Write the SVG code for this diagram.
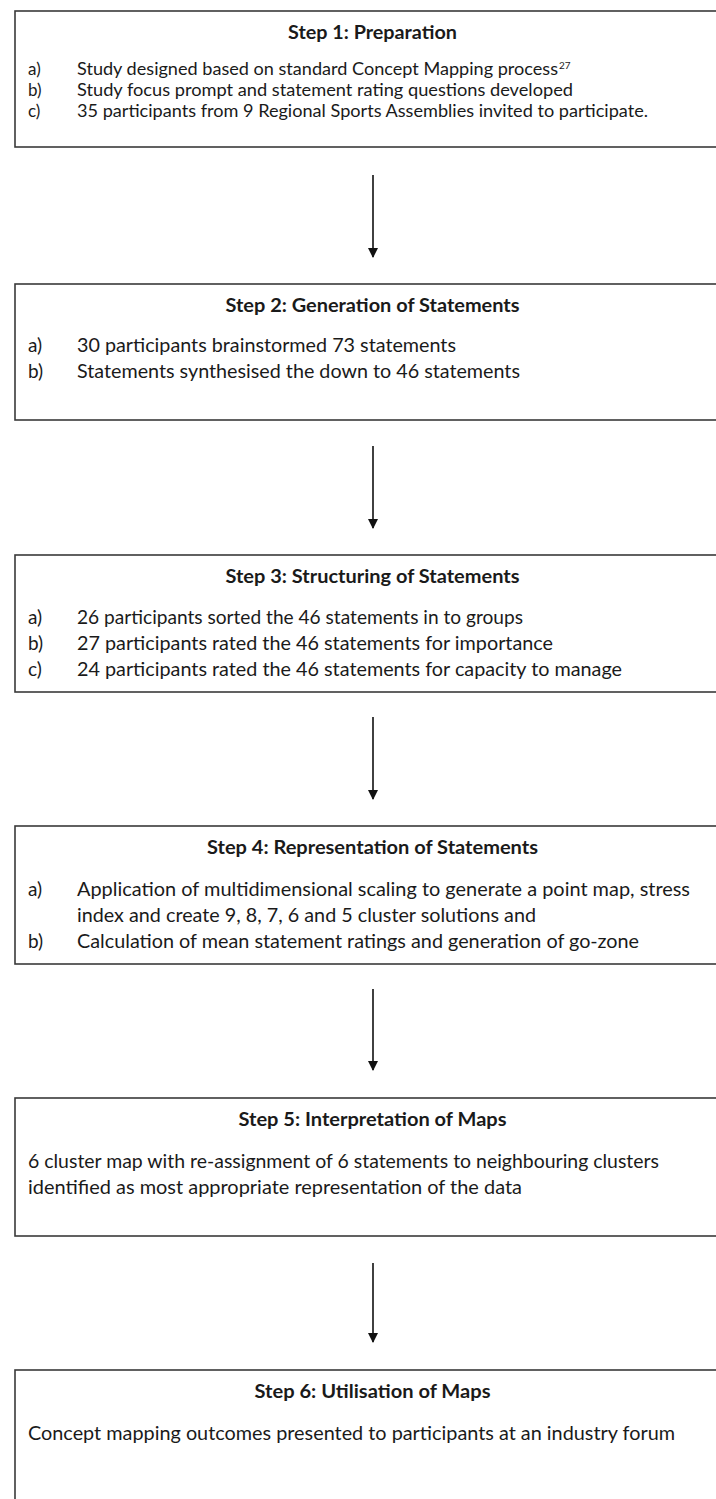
<svg xmlns="http://www.w3.org/2000/svg" width="716" height="1499" viewBox="0 0 716 1499">
<style>
.box{fill:#fff;stroke:#3a3a3a;stroke-width:1.6}
.t{font-family:Lato,"Liberation Sans",Arial,sans-serif;font-size:19px;fill:#1a1a1a}
.s{font-size:17px}
.h{font-family:Lato,"Liberation Sans",Arial,sans-serif;font-size:19px;font-weight:bold;fill:#1a1a1a;text-anchor:middle}
.c{stroke:#111;stroke-width:1.6;fill:none}
</style>
<defs>
<marker id="ah" markerWidth="10" markerHeight="11" refX="9" refY="5" orient="auto" markerUnits="userSpaceOnUse">
<path d="M0,0 L10,5 L0,10 Z" fill="#111"/>
</marker>
</defs>
<rect width="716" height="1499" fill="#fff"/>
<g id="connectors">
<line class="c" x1="373" y1="175" x2="373" y2="257" marker-end="url(#ah)"/>
<line class="c" x1="373" y1="446" x2="373" y2="528" marker-end="url(#ah)"/>
<line class="c" x1="373" y1="717" x2="373" y2="799" marker-end="url(#ah)"/>
<line class="c" x1="373" y1="989" x2="373" y2="1070" marker-end="url(#ah)"/>
<line class="c" x1="373" y1="1263" x2="373" y2="1342" marker-end="url(#ah)"/>
</g>
<g id="step1">
<rect class="box" x="15" y="11" width="730" height="136"/>
<text class="h" x="372.5" y="39" textLength="169" lengthAdjust="spacingAndGlyphs">Step 1: Preparation</text>
<text class="t s" x="28" y="75">a)</text>
<text class="t s" x="77" y="75"><tspan textLength="481" lengthAdjust="spacingAndGlyphs">Study designed based on standard Concept Mapping process</tspan><tspan x="559" dy="-6" style="font-size:10px">27</tspan></text>
<text class="t s" x="28" y="96">b)</text>
<text class="t s" x="77" y="96" textLength="496" lengthAdjust="spacingAndGlyphs">Study focus prompt and statement rating questions developed</text>
<text class="t s" x="28" y="117">c)</text>
<text class="t s" x="77" y="117" textLength="571" lengthAdjust="spacingAndGlyphs">35 participants from 9 Regional Sports Assemblies invited to participate.</text>
</g>
<g id="step2">
<rect class="box" x="15" y="284" width="730" height="136"/>
<text class="h" x="372.5" y="312" textLength="294" lengthAdjust="spacingAndGlyphs">Step 2: Generation of Statements</text>
<text class="t" x="28" y="352">a)</text>
<text class="t" x="77" y="352" textLength="379" lengthAdjust="spacingAndGlyphs">30 participants brainstormed 73 statements</text>
<text class="t" x="28" y="378">b)</text>
<text class="t" x="77" y="378" textLength="443" lengthAdjust="spacingAndGlyphs">Statements synthesised the down to 46 statements</text>
</g>
<g id="step3">
<rect class="box" x="15" y="555" width="730" height="137"/>
<text class="h" x="372.5" y="583" textLength="294" lengthAdjust="spacingAndGlyphs">Step 3: Structuring of Statements</text>
<text class="t" x="28" y="624">a)</text>
<text class="t" x="77" y="624" textLength="446" lengthAdjust="spacingAndGlyphs">26 participants sorted the 46 statements in to groups</text>
<text class="t" x="28" y="650">b)</text>
<text class="t" x="77" y="650" textLength="476" lengthAdjust="spacingAndGlyphs">27 participants rated the 46 statements for importance</text>
<text class="t" x="28" y="676">c)</text>
<text class="t" x="77" y="676" textLength="545" lengthAdjust="spacingAndGlyphs">24 participants rated the 46 statements for capacity to manage</text>
</g>
<g id="step4">
<rect class="box" x="15" y="826" width="730" height="138"/>
<text class="h" x="372.5" y="854" textLength="331" lengthAdjust="spacingAndGlyphs">Step 4: Representation of Statements</text>
<text class="t" x="28" y="896">a)</text>
<text class="t" x="77" y="896" textLength="613" lengthAdjust="spacingAndGlyphs">Application of multidimensional scaling to generate a point map, stress</text>
<text class="t" x="77" y="922" textLength="459" lengthAdjust="spacingAndGlyphs">index and create 9, 8, 7, 6 and 5 cluster solutions and</text>
<text class="t" x="28" y="948">b)</text>
<text class="t" x="77" y="948" textLength="562" lengthAdjust="spacingAndGlyphs">Calculation of mean statement ratings and generation of go-zone</text>
</g>
<g id="step5">
<rect class="box" x="15" y="1098" width="730" height="138"/>
<text class="h" x="372.5" y="1126" textLength="268" lengthAdjust="spacingAndGlyphs">Step 5: Interpretation of Maps</text>
<text class="t" x="28" y="1168" textLength="631" lengthAdjust="spacingAndGlyphs">6 cluster map with re-assignment of 6 statements to neighbouring clusters</text>
<text class="t" x="28" y="1194" textLength="494" lengthAdjust="spacingAndGlyphs">identified as most appropriate representation of the data</text>
</g>
<g id="step6">
<rect class="box" x="15" y="1370" width="730" height="150"/>
<text class="h" x="372.5" y="1398" textLength="236" lengthAdjust="spacingAndGlyphs">Step 6: Utilisation of Maps</text>
<text class="t" x="28" y="1440" textLength="647" lengthAdjust="spacingAndGlyphs">Concept mapping outcomes presented to participants at an industry forum</text>
</g>
</svg>
